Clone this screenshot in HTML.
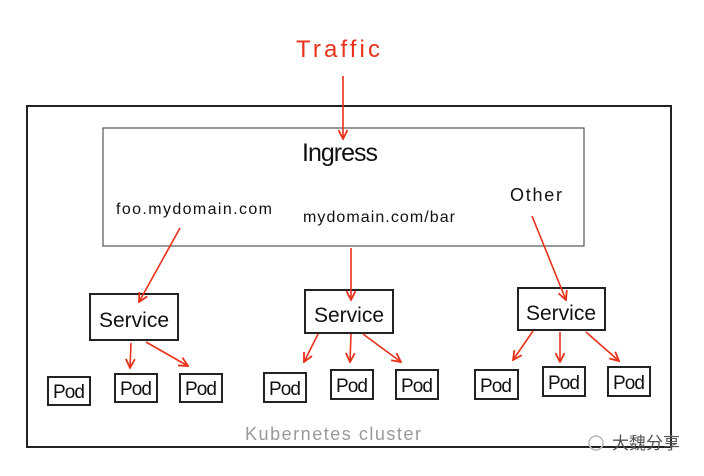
<!DOCTYPE html>
<html><head><meta charset="utf-8"><style>
body{margin:0;background:#fff;}
svg{display:block}
text{font-family:"Liberation Sans",sans-serif;}
</style></head><body>
<svg width="704" height="476" viewBox="0 0 704 476" xmlns="http://www.w3.org/2000/svg">
<defs><marker id="a" viewBox="0 0 10 10" refX="9" refY="5" markerWidth="7" markerHeight="7" orient="auto"><path d="M1,1 L9,5 L1,9" fill="none" stroke="#e8321a" stroke-width="1.6"/></marker></defs>
<rect width="704" height="476" fill="#fff"/>
<rect x="27" y="106" width="644" height="341" fill="none" stroke="#222" stroke-width="2"/>
<rect x="103" y="128" width="481" height="118" fill="none" stroke="#555" stroke-width="1.2"/>
<text x="338" y="57" font-size="24" fill="#e8321a" text-anchor="middle" textLength="84">Traffic</text>
<text x="340" y="161" font-size="25" fill="#111" text-anchor="middle" textLength="76">Ingress</text>
<text x="116" y="214" font-size="16" fill="#111" textLength="156">foo.mydomain.com</text>
<text x="303" y="222" font-size="16" fill="#111" textLength="152">mydomain.com/bar</text>
<text x="510" y="201" font-size="18" fill="#111" textLength="52">Other</text>
<g fill="#fff" stroke="#222" stroke-width="2">
<rect x="90" y="294" width="88" height="46"/>
<rect x="305" y="290" width="88" height="43"/>
<rect x="518" y="288" width="87" height="42"/>
<rect x="48" y="377" width="42" height="28"/><rect x="115" y="374" width="42" height="28"/><rect x="180" y="374" width="42" height="28"/>
<rect x="264" y="373" width="42" height="29"/><rect x="331" y="370" width="42" height="29"/><rect x="396" y="370" width="42" height="29"/>
<rect x="475" y="370" width="43" height="29"/><rect x="543" y="367" width="42" height="29"/><rect x="608" y="367" width="42" height="29"/>
</g>
<g fill="none" stroke="#e8321a" stroke-width="1.6" marker-end="url(#a)">
<line x1="343" y1="76" x2="343" y2="139"/>
<line x1="180" y1="228" x2="139" y2="302"/>
<line x1="351" y1="248" x2="351" y2="300"/>
<line x1="532" y1="216" x2="566" y2="300"/>
<line x1="131" y1="343" x2="130" y2="368"/><line x1="146" y1="342" x2="188" y2="366"/>
<line x1="318" y1="334" x2="304" y2="362"/><line x1="351" y1="334" x2="350" y2="362"/><line x1="363" y1="334" x2="401" y2="362"/>
<line x1="533" y1="331" x2="513" y2="360"/><line x1="560" y1="332" x2="560" y2="362"/><line x1="586" y1="332" x2="619" y2="361"/>
</g>
<g font-size="21" fill="#111" text-anchor="middle">
<text x="134" y="327" textLength="70">Service</text>
<text x="349" y="322" textLength="70">Service</text>
<text x="561" y="320" textLength="70">Service</text>
</g>
<g font-size="19" fill="#111" text-anchor="middle">
<text x="69" y="398" textLength="32">Pod</text><text x="136" y="395" textLength="32">Pod</text><text x="201" y="395" textLength="32">Pod</text>
<text x="285" y="395" textLength="32">Pod</text><text x="352" y="392" textLength="32">Pod</text><text x="417" y="392" textLength="32">Pod</text>
<text x="496" y="392" textLength="32">Pod</text><text x="564" y="389" textLength="32">Pod</text><text x="629" y="389" textLength="32">Pod</text>
</g>
<text x="245" y="440" font-size="18" fill="#999" textLength="176">Kubernetes cluster</text>
<circle cx="596" cy="443" r="7" fill="none" stroke="#bbb" stroke-width="1.5"/>
<text x="612" y="449" font-size="17" fill="#555" style="font-family:'Liberation Sans','Noto Sans CJK SC',sans-serif">大魏分享</text>
</svg>
</body></html>
